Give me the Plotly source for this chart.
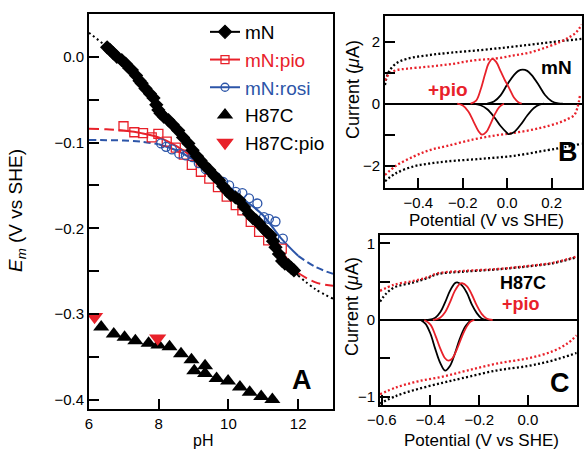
import plotly.graph_objects as go

RED = "#e8212a"
BLUE = "#2c55a8"
BLK = "#000000"
FONT = "Liberation Sans, Arial, sans-serif"

# ---------------- Panel A data ----------------
mN_ph = [6.52, 6.6, 6.7, 6.8, 6.94, 7.05, 7.15, 7.23, 7.35, 7.45, 7.51, 7.62, 7.75, 7.85, 7.93, 7.99,
         8.05, 8.15, 8.28, 8.4, 8.56, 8.7, 8.85, 8.97, 9.1, 9.2, 9.3, 9.45, 9.6, 9.73, 9.85, 9.95,
         10.07, 10.2, 10.31, 10.45, 10.59, 10.7, 10.8, 10.88, 11.0, 11.1, 11.21, 11.28, 11.35, 11.45,
         11.54, 11.62, 11.72, 11.8, 11.88]
mN_E = [0.011, 0.008, 0.004, 0.0, -0.004, -0.008, -0.013, -0.0155, -0.022, -0.028, -0.031, -0.037,
        -0.043, -0.048, -0.056, -0.062, -0.066, -0.07, -0.074, -0.079, -0.086, -0.094, -0.101, -0.109,
        -0.116, -0.121, -0.126, -0.132, -0.139, -0.144, -0.151, -0.156, -0.161, -0.164, -0.167, -0.175,
        -0.183, -0.188, -0.191, -0.194, -0.2, -0.204, -0.208, -0.215, -0.222, -0.23, -0.238, -0.241,
        -0.243, -0.246, -0.249]

pio_ph = [6.99, 7.3, 7.55, 7.8, 7.99, 8.23, 8.49, 8.72, 8.95, 9.21, 9.45, 9.7, 9.95, 10.21, 10.4,
          10.64, 10.88, 11.14, 11.53]
pio_E = [-0.081, -0.088, -0.089, -0.094, -0.090, -0.099, -0.106, -0.114, -0.126, -0.134, -0.142,
         -0.152, -0.163, -0.173, -0.179, -0.1925, -0.204, -0.214, -0.2236]

rosi_ph = [8.07, 8.21, 8.38, 8.59, 8.78, 8.97, 9.15, 9.35, 9.64, 9.85, 10.02, 10.21, 10.4, 10.59,
           10.83, 11.02, 11.16, 11.35, 11.56]
rosi_E = [-0.101, -0.105, -0.108, -0.113, -0.115, -0.117, -0.124, -0.131, -0.140, -0.146, -0.150,
          -0.1575, -0.159, -0.165, -0.171, -0.187, -0.189, -0.192, -0.212]

h87c_ph = [6.35, 6.71, 7.02, 7.33, 7.71, 7.99, 8.31, 8.64, 8.94, 9.02, 9.33, 9.33, 9.66, 9.99,
           10.33, 10.61, 10.94, 11.26]
h87c_E = [-0.315, -0.323, -0.327, -0.331, -0.334, -0.336, -0.338, -0.346, -0.353, -0.366, -0.360,
          -0.369, -0.375, -0.378, -0.385, -0.391, -0.396, -0.3995]

h87cpio_ph = [6.16, 7.97]
h87cpio_E = [-0.303, -0.328]

# fitted curves
fit_ph = [6.0, 6.5, 7.0, 7.5, 8.0, 8.5, 9.0, 9.5, 10.0, 10.5, 11.0, 11.5, 12.0, 12.5, 13.0]
fit_mN = [0.028, 0.012, -0.007, -0.030, -0.058, -0.085, -0.110, -0.134, -0.157, -0.179, -0.200,
          -0.226, -0.255, -0.271, -0.282]
fit_pio = [-0.084, -0.0845, -0.086, -0.089, -0.094, -0.104, -0.118, -0.136, -0.157, -0.180, -0.201,
           -0.226, -0.252, -0.263, -0.267]
fit_rosi = [-0.097, -0.0972, -0.0976, -0.099, -0.102, -0.109, -0.120, -0.135, -0.151, -0.168,
            -0.185, -0.211, -0.232, -0.245, -0.253]
# measured range (solid) for each fit
range_mN = (6.5, 12.0)
range_pio = (7.0, 12.0)
range_rosi = (8.0, 12.0)

# ---------------- Panel B data ----------------
B_bgk_up_x = [-0.55, -0.535, -0.5, -0.45, -0.35, -0.25, -0.12, 0.0, 0.1, 0.2, 0.335]
B_bgk_up_y = [0.6, 1.0, 1.3, 1.45, 1.57, 1.65, 1.73, 1.82, 1.9, 1.99, 2.09]
B_bgr_up_x = [-0.55, -0.53, -0.5, -0.45, -0.35, -0.25, -0.15, -0.05, 0.03, 0.1, 0.18, 0.24, 0.28, 0.31, 0.335]
B_bgr_up_y = [0.75, 0.97, 1.08, 1.13, 1.2, 1.28, 1.4, 1.46, 1.56, 1.65, 1.83, 2.0, 2.15, 2.3, 2.55]
B_bgk_lo_x = [-0.55, -0.5, -0.42, -0.35, -0.27, -0.12, 0.03, 0.18, 0.26, 0.335]
B_bgk_lo_y = [-2.5, -2.24, -2.02, -1.93, -1.86, -1.78, -1.68, -1.5, -1.4, -1.29]
B_bgr_lo_x = [-0.55, -0.5, -0.42, -0.35, -0.27, -0.15, -0.05, 0.05, 0.15, 0.23, 0.27, 0.3, 0.315, 0.328]
B_bgr_lo_y = [-2.3, -2.0, -1.7, -1.5, -1.36, -1.15, -1.02, -0.92, -0.78, -0.62, -0.5, -0.38, -0.15, 0.3]

B_mN_ox_x = [-0.09, -0.06, -0.03, 0.0, 0.03, 0.05, 0.07, 0.09, 0.11, 0.14, 0.17, 0.2, 0.23, 0.25]
B_mN_ox_y = [0.0, 0.07, 0.27, 0.62, 0.92, 1.06, 1.1, 1.06, 0.92, 0.62, 0.28, 0.08, 0.01, 0.0]
B_mN_red_x = [-0.155, -0.12, -0.09, -0.06, -0.03, 0.0, 0.005, 0.03, 0.06, 0.09, 0.12, 0.145, 0.165]
B_mN_red_y = [0.0, -0.05, -0.18, -0.42, -0.72, -0.95, -0.98, -0.92, -0.68, -0.38, -0.14, -0.03, 0.0]
B_pio_ox_x = [-0.165, -0.14, -0.12, -0.1, -0.085, -0.067, -0.05, -0.03, -0.01, 0.0, 0.01, 0.03, 0.05, 0.065]
B_pio_ox_y = [0.0, 0.1, 0.45, 0.95, 1.28, 1.45, 1.35, 1.05, 0.75, 0.62, 0.48, 0.2, 0.05, 0.0]
B_pio_red_x = [-0.225, -0.2, -0.175, -0.15, -0.13, -0.114, -0.095, -0.075, -0.055, -0.035, -0.015]
B_pio_red_y = [0.0, -0.06, -0.25, -0.6, -0.88, -1.0, -0.92, -0.65, -0.33, -0.1, 0.0]

# ---------------- Panel C data ----------------
C_bgk_up_x = [-0.607, -0.58, -0.545, -0.47, -0.41, -0.37, -0.27, -0.13, 0.0, 0.1, 0.2]
C_bgk_up_y = [0.24, 0.35, 0.43, 0.49, 0.55, 0.6, 0.63, 0.66, 0.7, 0.74, 0.82]
C_bgr_up_x = [-0.607, -0.55, -0.47, -0.41, -0.37, -0.27, -0.13, 0.0, 0.1, 0.2]
C_bgr_up_y = [0.38, 0.46, 0.51, 0.56, 0.61, 0.64, 0.665, 0.705, 0.745, 0.83]
C_bgk_lo_x = [-0.607, -0.54, -0.45, -0.35, -0.27, -0.13, 0.0, 0.1, 0.2]
C_bgk_lo_y = [-1.09, -0.99, -0.9, -0.82, -0.76, -0.66, -0.6, -0.53, -0.43]
C_bgr_lo_x = [-0.607, -0.54, -0.45, -0.35, -0.25, -0.13, 0.0, 0.1, 0.16, 0.2]
C_bgr_lo_y = [-0.97, -0.88, -0.8, -0.74, -0.66, -0.57, -0.5, -0.41, -0.31, -0.2]

C_h_ox_x = [-0.41, -0.38, -0.36, -0.34, -0.32, -0.3, -0.29, -0.27, -0.25, -0.23, -0.21, -0.19, -0.17]
C_h_ox_y = [0.0, 0.03, 0.1, 0.23, 0.38, 0.48, 0.49, 0.45, 0.35, 0.2, 0.09, 0.02, 0.0]
C_p_ox_x = [-0.39, -0.36, -0.34, -0.32, -0.3, -0.28, -0.27, -0.25, -0.23, -0.21, -0.19, -0.17, -0.145]
C_p_ox_y = [0.0, 0.03, 0.1, 0.23, 0.38, 0.47, 0.48, 0.44, 0.33, 0.19, 0.08, 0.02, 0.0]
C_h_red_x = [-0.44, -0.42, -0.4, -0.38, -0.36, -0.34, -0.32, -0.3, -0.28, -0.26, -0.24, -0.235]
C_h_red_y = [0.0, -0.05, -0.18, -0.38, -0.56, -0.66, -0.6, -0.44, -0.25, -0.1, -0.02, 0.0]
C_p_red_x = [-0.425, -0.4, -0.38, -0.36, -0.34, -0.327, -0.31, -0.29, -0.27, -0.25, -0.235, -0.22]
C_p_red_y = [0.0, -0.06, -0.2, -0.37, -0.5, -0.53, -0.5, -0.37, -0.21, -0.08, -0.02, 0.0]

# ---------------- helpers ----------------
def segment(xs, ys, lo, hi):
    px_ = [x for x in xs if lo <= x <= hi]
    py_ = [y for x, y in zip(xs, ys) if lo <= x <= hi]
    return px_, py_

fig = go.Figure()

def fit_traces(ys, rng, color, dash_out, width=2):
    a = segment(fit_ph, ys, fit_ph[0], rng[0])
    b = segment(fit_ph, ys, rng[0], rng[1])
    c = segment(fit_ph, ys, rng[1], fit_ph[-1])
    for (sx, sy), d in ((a, dash_out), (b, "solid"), (c, dash_out)):
        fig.add_trace(go.Scatter(x=sx, y=sy, mode="lines", line=dict(color=color, width=width, dash=d, shape="spline"),
                                 showlegend=False, hoverinfo="skip", xaxis="x", yaxis="y"))

fit_traces(fit_pio, range_pio, RED, "10px,5px")
fit_traces(fit_rosi, range_rosi, BLUE, "7px,4px")
fit_traces(fit_mN, range_mN, BLK, "2px,3px")

fig.add_trace(go.Scatter(x=pio_ph, y=pio_E, mode="markers", showlegend=False,
                         marker=dict(symbol="square-open", size=9, color=RED, line=dict(width=1.3, color=RED))))
fig.add_trace(go.Scatter(x=rosi_ph, y=rosi_E, mode="markers", showlegend=False,
                         marker=dict(symbol="circle-open", size=9, color=BLUE, line=dict(width=1.3, color=BLUE))))
fig.add_trace(go.Scatter(x=mN_ph, y=mN_E, mode="markers", showlegend=False,
                         marker=dict(symbol="diamond", size=11, color=BLK)))
fig.add_trace(go.Scatter(x=h87c_ph, y=h87c_E, mode="markers", showlegend=False,
                         marker=dict(symbol="triangle-up", size=14, color=BLK)))
fig.add_trace(go.Scatter(x=h87cpio_ph, y=h87cpio_E, mode="markers", showlegend=False,
                         marker=dict(symbol="triangle-down", size=15, color=RED)))

# legend entries
legend_names = ["mN", '<span style="color:%s">mN:pio</span>' % RED, '<span style="color:%s">mN:rosi</span>' % BLUE,
                "H87C", "H87C:pio"]
legend_modes = ["lines+markers", "lines+markers", "lines+markers", "markers", "markers"]
legend_syms = ["diamond", "square-open", "circle-open", "triangle-up", "triangle-down"]
legend_cols = [BLK, RED, BLUE, BLK, RED]
legend_sizes = [10, 8, 8, 12, 13]
for i, (nm, md, sy, cl, sz) in enumerate(zip(legend_names, legend_modes, legend_syms, legend_cols, legend_sizes)):
    fig.add_trace(go.Scatter(x=[None], y=[None], name=nm, mode=md, legendrank=i + 1,
                             line=dict(color=cl, width=2),
                             marker=dict(symbol=sy, size=sz, color=cl, line=dict(width=1.3, color=cl)),
                             xaxis="x", yaxis="y"))

# Panel B
for xs, ys, cl in ((B_bgk_up_x, B_bgk_up_y, BLK), (B_bgk_lo_x, B_bgk_lo_y, BLK),
                   (B_bgr_up_x, B_bgr_up_y, RED), (B_bgr_lo_x, B_bgr_lo_y, RED)):
    fig.add_trace(go.Scatter(x=xs, y=ys, mode="lines", showlegend=False, xaxis="x2", yaxis="y2",
                             line=dict(color=cl, width=2.3, dash="2px,2.3px", shape="spline")))
for xs, ys, cl in ((B_mN_ox_x, B_mN_ox_y, BLK), (B_mN_red_x, B_mN_red_y, BLK),
                   (B_pio_ox_x, B_pio_ox_y, RED), (B_pio_red_x, B_pio_red_y, RED)):
    fig.add_trace(go.Scatter(x=xs, y=ys, mode="lines", showlegend=False, xaxis="x2", yaxis="y2",
                             line=dict(color=cl, width=1.8, shape="spline")))

# Panel C
for xs, ys, cl in ((C_bgk_up_x, C_bgk_up_y, BLK), (C_bgk_lo_x, C_bgk_lo_y, BLK),
                   (C_bgr_up_x, C_bgr_up_y, RED), (C_bgr_lo_x, C_bgr_lo_y, RED)):
    fig.add_trace(go.Scatter(x=xs, y=ys, mode="lines", showlegend=False, xaxis="x3", yaxis="y3",
                             line=dict(color=cl, width=2.3, dash="2px,2.3px", shape="spline")))
for xs, ys, cl in ((C_h_ox_x, C_h_ox_y, BLK), (C_h_red_x, C_h_red_y, BLK),
                   (C_p_ox_x, C_p_ox_y, RED), (C_p_red_x, C_p_red_y, RED)):
    fig.add_trace(go.Scatter(x=xs, y=ys, mode="lines", showlegend=False, xaxis="x3", yaxis="y3",
                             line=dict(color=cl, width=1.8, shape="spline")))

W, H = 587, 450
def px(x):
    return x / W
def py(y):
    return 1 - y / H

axis_common = dict(showline=True, linecolor=BLK, linewidth=2, mirror=True, ticks="inside", ticklen=10,
                   tickwidth=2, tickcolor=BLK, showgrid=False, automargin=False,
                   tickfont=dict(family=FONT, size=15, color=BLK))

def minor(vals):
    return dict(tickvals=vals, ticks="inside", ticklen=10, tickwidth=2, tickcolor=BLK, showgrid=False)

A_yt = [-0.4, -0.3, -0.2, -0.1, 0.0]
A_ytt = ["\u22120.4", "\u22120.3", "\u22120.2", "\u22120.1", "0.0"]
A_ymin = [-0.35, -0.25, -0.15, -0.05]
B_xt = [-0.4, -0.2, 0.0, 0.2]
B_xtt = ["\u22120.4", "\u22120.2", "0.0", "0.2"]
B_yt = [-2, 0, 2]
B_ytt = ["\u22122", "0", "2"]
B_ymin = [-1, 1]
C_xt = [-0.6, -0.4, -0.2, 0.0, 0.2]
C_xtt = ["\u22120.6", "\u22120.4", "\u22120.2", "0.0", "0.2"]
C_yt = [-1, 0, 1]
C_ytt = ["\u22121", "0", "1"]
C_ymin = [-0.5, 0.5]

fig.update_layout(
    template="none",
    width=W, height=H, margin=dict(l=0, r=0, t=0, b=0, pad=0), autosize=False,
    paper_bgcolor="white", plot_bgcolor="white",
    font=dict(family=FONT, color=BLK),
    xaxis=dict(domain=[px(89), px(333)], range=[6, 13], tickvals=[6, 8, 10, 12], zeroline=False,
               anchor="y", **axis_common),
    yaxis=dict(domain=[py(409), py(14)], range=[-0.4105, 0.0498], tickvals=A_yt, ticktext=A_ytt,
               minor=minor(A_ymin), zeroline=False, anchor="x", **axis_common),
    xaxis2=dict(domain=[px(385), px(581.7)], range=[-0.55, 0.335], tickvals=B_xt, ticktext=B_xtt,
                zeroline=False, anchor="y2", **axis_common),
    yaxis2=dict(domain=[py(188), py(15.7)], range=[-2.72, 2.84], tickvals=B_yt, ticktext=B_ytt,
                minor=minor(B_ymin), zeroline=True, zerolinecolor=BLK, zerolinewidth=2, anchor="x2",
                **axis_common),
    xaxis3=dict(domain=[px(380), px(576.7)], range=[-0.607, 0.2], tickvals=C_xt, ticktext=C_xtt,
                zeroline=False, anchor="y3", **axis_common),
    yaxis3=dict(domain=[py(405), py(235)], range=[-1.11, 1.11], tickvals=C_yt, ticktext=C_ytt,
                minor=minor(C_ymin), zeroline=True, zerolinecolor=BLK, zerolinewidth=2, anchor="x3",
                **axis_common),
    legend=dict(x=px(205), y=py(13), xanchor="left", yanchor="top", bgcolor="rgba(0,0,0,0)",
                borderwidth=0, font=dict(family=FONT, size=19, color=BLK), tracegroupgap=0, itemwidth=30),
    showlegend=True,
)

ann = []
def text(x, y, t, size, color=BLK, angle=0, bold=False):
    ann.append(dict(x=px(x), y=py(y), xref="paper", yref="paper", text=("<b>%s</b>" % t) if bold else t,
                    showarrow=False, textangle=angle, xanchor="center", yanchor="middle",
                    font=dict(family=FONT, size=size, color=color)))

text(203, 440, "pH", 16)
text(17, 211, "<i>E</i><sub><i>m</i></sub> (V vs SHE)", 19, angle=-90)
text(486, 220, "Potential (V vs SHE)", 17)
text(481, 440, "Potential (V vs SHE)", 17)
text(353, 90, "Current (<i>\u03bc</i>A)", 18, angle=-90)
text(352, 307, "Current (<i>\u03bc</i>A)", 18, angle=-90)
text(302, 380, "A", 27, bold=True)
text(568, 152, "B", 27, bold=True)
text(560, 383, "C", 27, bold=True)
text(556, 68, "mN", 19, bold=True)
text(448, 89, "+pio", 19, color=RED, bold=True)
text(523, 283, "H87C", 18, bold=True)
text(521, 304, "+pio", 18, color=RED, bold=True)
fig.update_layout(annotations=ann)

fig.write_html("out.html", config={"displayModeBar": False},
               post_script="document.body.style.margin='0';document.body.style.overflow='hidden';")
